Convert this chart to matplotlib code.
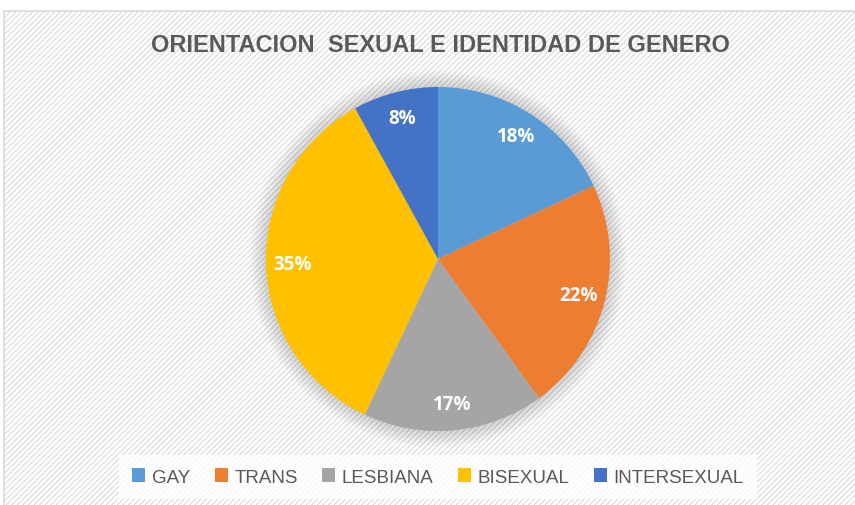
import matplotlib
matplotlib.use("Agg")
import matplotlib.pyplot as plt
from matplotlib.patches import Rectangle, Circle

categories = ["GAY", "TRANS", "LESBIANA", "BISEXUAL", "INTERSEXUAL"]
values = [18, 22, 17, 35, 8]
colors = ["#5B9BD5", "#ED7D31", "#A5A5A5", "#FFC000", "#4472C4"]
title = "ORIENTACION  SEXUAL E IDENTIDAD DE GENERO"

plt.rcParams["hatch.color"] = "#F5F5F5"
plt.rcParams["hatch.linewidth"] = 0.8

W, H = 855, 506
fig = plt.figure(figsize=(W / 100, H / 100), dpi=100)
fig.patch.set_facecolor("white")

# chart area: faint diagonal stripes and a light border
bg = Rectangle((4 / W, -0.01), 1.0, (H - 12) / H + 0.01, transform=fig.transFigure,
               facecolor="white", edgecolor="#D9D9D9", linewidth=1.2,
               hatch="//////", zorder=-5)
fig.patches.append(bg)

fig.text(440 / W, 1 - 45 / H, title, ha="center", va="center",
         fontsize=17, fontweight="bold", color="#595959",
         family=["Liberation Sans", "DejaVu Sans"])

# pie, centre (438, 260), radius 172 px
r = 172
pad = 1.12
ax = fig.add_axes([(438 - r * pad) / W, (H - 260 - r * pad) / H,
                   2 * r * pad / W, 2 * r * pad / H])
ax.set_zorder(2)

# soft shadow round the pie
for k in range(8):
    ax.add_patch(Circle((0, 0), 1.0 + 0.012 * (k + 1), facecolor="#000000",
                        alpha=0.018, edgecolor="none", zorder=0))

wedges, texts, autotexts = ax.pie(
    values, colors=colors, startangle=90, counterclock=False, radius=1.0,
    autopct="%d%%", pctdistance=0.845,
    wedgeprops=dict(edgecolor="none", linewidth=0),
    textprops=dict(color="white", fontsize=13.5, fontweight="bold",
                   family=["Open Sans", "DejaVu Sans"]))
ax.set_xlim(-pad, pad)
ax.set_ylim(-pad, pad)
ax.set_aspect("equal")
ax.axis("off")

leg = fig.legend(wedges, categories, loc="center", ncol=5,
                 bbox_to_anchor=(438 / W, 1 - 478 / H),
                 frameon=True, fancybox=False, handlelength=0.7,
                 handleheight=0.7, handletextpad=0.35, columnspacing=1.3,
                 borderpad=0.7,
                 prop=dict(size=13.5, family=["Liberation Sans", "DejaVu Sans"]))
leg.set_zorder(3)
leg.get_frame().set_facecolor("white")
leg.get_frame().set_edgecolor("none")
for t in leg.get_texts():
    t.set_color("#595959")

fig.savefig("out.png", dpi=100)
